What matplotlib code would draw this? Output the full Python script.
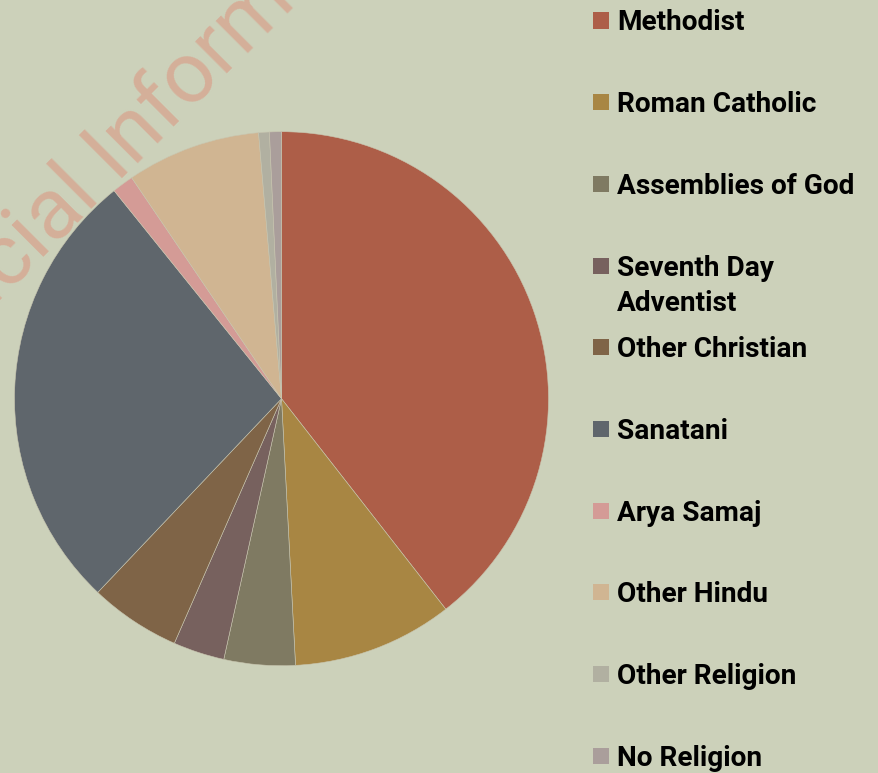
import matplotlib
matplotlib.use("Agg")
import matplotlib.pyplot as plt
from matplotlib.patches import Rectangle

# religion shares (%), clockwise from 12 o'clock
labels = ["Methodist", "Roman Catholic", "Assemblies of God", "Seventh Day\nAdventist",
          "Other Christian", "Sanatani", "Arya Samaj", "Other Hindu",
          "Other Religion", "No Religion"]
shares = [39.4, 9.7, 4.3, 3.1, 5.5, 27.1, 1.3, 8.1, 0.65, 0.72]
colors = ["#AD5E48", "#A88643", "#7F7A62", "#77615E", "#7F6447",
          "#5F666C", "#D49B96", "#D0B592", "#B1B0A1", "#AA9E9B"]

bg = "#CCD1BA"
W, H = 879, 773

fig = plt.figure(figsize=(W / 100, H / 100), dpi=100, facecolor=bg)

# watermark behind everything
fig.text(-92 / W, 1 - 392 / H, "Official Information", fontsize=62,
         family="Roboto", fontweight="normal", color="#D5AF99",
         rotation=45, rotation_mode="anchor", ha="left", va="baseline", zorder=0)

cx, cy, r = 281.5, 398.7, 267
ax = fig.add_axes([(cx - r) / W, 1 - (cy + r) / H, 2 * r / W, 2 * r / H])
ax.set_facecolor("none")
ax.pie(shares, colors=colors, startangle=90, counterclock=False,
       wedgeprops=dict(edgecolor="#C9C6B0", linewidth=0.4))
ax.set_xlim(-1, 1)
ax.set_ylim(-1, 1)
ax.set_aspect("equal")
ax.axis("off")

# legend on the right
font = dict(fontsize=20.2, family="Roboto", fontweight="bold", color="black",
            ha="left", va="baseline")
for i, (lab, col) in enumerate(zip(labels, colors)):
    yc = 20.5 + 81.7 * i
    fig.patches.append(Rectangle((593 / W, 1 - (yc + 8) / H), 16 / W, 16 / H,
                                 transform=fig.transFigure, facecolor=col,
                                 edgecolor="none"))
    lines = lab.split("\n")
    fig.text(617 / W, 1 - (yc + 10) / H, lines[0], **font)
    if len(lines) > 1:
        fig.text(617 / W, 1 - (yc + 45) / H, lines[1], **font)

fig.savefig("out.png", dpi=100, facecolor=bg)
